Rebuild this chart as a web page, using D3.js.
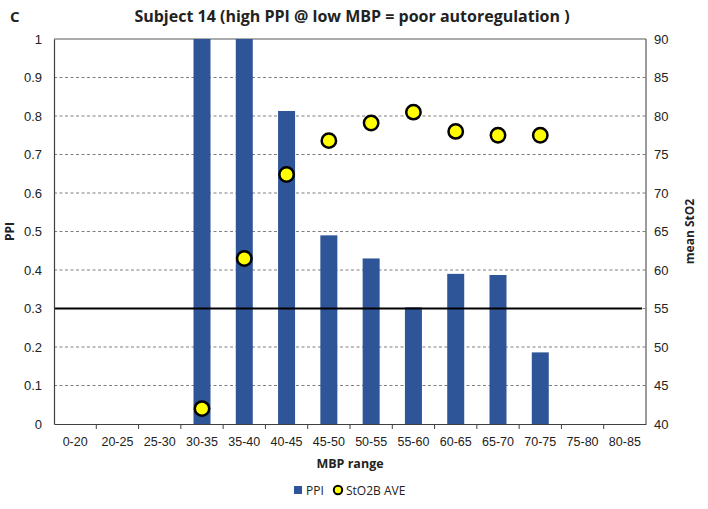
<!DOCTYPE html>
<html>
<head>
<meta charset="utf-8">
<script src="https://cdn.jsdelivr.net/npm/d3@7"></script>
<style>
  body { margin: 0; background: #fff; }
  svg { display: block; font-family: "Open Sans", "Noto Sans", sans-serif; }
</style>
</head>
<body>
<svg id="chart" width="708" height="509"></svg>
<script>
const categories = ["0-20","20-25","25-30","30-35","35-40","40-45","45-50","50-55","55-60","60-65","65-70","70-75","75-80","80-85"];
const ppiValues  = [null, null, null, 1.0, 1.0, 0.813, 0.49, 0.43, 0.303, 0.39, 0.387, 0.186, null, null];
const sto2Values = [null, null, null, 42.0, 61.5, 72.4, 76.8, 79.1, 80.5, 78.0, 77.5, 77.5, null, null];
const ppiTicks   = [0, 0.1, 0.2, 0.3, 0.4, 0.5, 0.6, 0.7, 0.8, 0.9, 1];
const sto2Ticks  = [40, 45, 50, 55, 60, 65, 70, 75, 80, 85, 90];
const thresholdPPI = 0.3;

const svg = d3.select("#chart");
const m = { left: 54, right: 646, top: 39, bottom: 424 };

const xb = d3.scaleBand().domain(categories).range([m.left, m.right]);
const yL = d3.scaleLinear().domain([0, 1]).range([m.bottom, m.top]);
const yR = d3.scaleLinear().domain([40, 90]).range([m.bottom, m.top]);

// gridlines
svg.append("g").selectAll("line").data(ppiTicks.filter(t => t > 0 && t < 1)).join("line")
  .attr("x1", m.left).attr("x2", m.right)
  .attr("y1", d => yL(d)).attr("y2", d => yL(d))
  .attr("stroke", "#7f7f7f").attr("stroke-width", 1).attr("stroke-dasharray", "3,2.5");

// frame top & right
svg.append("line").attr("x1", m.left).attr("x2", m.right).attr("y1", m.top).attr("y2", m.top).attr("stroke", "#595959").attr("stroke-width", 1.2);
svg.append("line").attr("x1", m.right).attr("x2", m.right).attr("y1", m.top).attr("y2", m.bottom).attr("stroke", "#595959").attr("stroke-width", 1.2);

// bars
const barData = categories.map((c, i) => ({ c, v: ppiValues[i] })).filter(d => d.v != null);
svg.append("g").selectAll("rect").data(barData).join("rect")
  .attr("x", d => xb(d.c) + xb.bandwidth() / 2 - 8.5)
  .attr("width", 17)
  .attr("y", d => yL(d.v))
  .attr("height", d => yL(0) - yL(d.v))
  .attr("fill", "#2E5597");

// threshold line
svg.append("line").attr("x1", m.left).attr("x2", m.right - 4)
  .attr("y1", yL(thresholdPPI)).attr("y2", yL(thresholdPPI))
  .attr("stroke", "#000").attr("stroke-width", 2);

// left axis
const gL = svg.append("g").attr("transform", `translate(${m.left},0)`)
  .call(d3.axisLeft(yL).tickValues(ppiTicks).tickSize(0).tickPadding(12).tickFormat(d => d3.format("")(d)));
gL.select(".domain").attr("stroke", "#404040").attr("stroke-width", 1.2);
gL.selectAll("text").attr("font-size", 13).attr("fill", "#222");

// right axis
const gR = svg.append("g").attr("transform", `translate(${m.right},0)`)
  .call(d3.axisRight(yR).tickValues(sto2Ticks).tickSize(0).tickPadding(8));
gR.select(".domain").remove();
gR.selectAll("text").attr("font-size", 13).attr("fill", "#222");

// bottom axis
const gB = svg.append("g").attr("transform", `translate(0,${m.bottom})`)
  .call(d3.axisBottom(xb).tickSize(0).tickPadding(13));
gB.select(".domain").attr("stroke", "#404040").attr("stroke-width", 1.2);
gB.selectAll("text").attr("font-size", 12.5).attr("fill", "#222");
svg.append("g").selectAll("line").data(categories.slice(1)).join("line")
  .attr("x1", d => xb(d)).attr("x2", d => xb(d))
  .attr("y1", m.bottom).attr("y2", m.bottom + 5)
  .attr("stroke", "#404040").attr("stroke-width", 1);

// points
const ptData = categories.map((c, i) => ({ c, v: sto2Values[i] })).filter(d => d.v != null);
svg.append("g").selectAll("circle").data(ptData).join("circle")
  .attr("cx", d => xb(d.c) + xb.bandwidth() / 2)
  .attr("cy", d => yR(d.v))
  .attr("r", 7.2)
  .attr("fill", "#FFFF00").attr("stroke", "#000").attr("stroke-width", 2.5);

// titles
svg.append("text").attr("x", 10).attr("y", 22).attr("font-size", 15).attr("font-weight", "bold").attr("fill", "#222").text("C");
svg.append("text").attr("x", 352).attr("y", 22).attr("text-anchor", "middle").attr("font-size", 16).attr("font-weight", "bold").attr("fill", "#222")
  .text("Subject 14 (high PPI @ low MBP = poor autoregulation )");
svg.append("text").attr("transform", `translate(14,${(m.top + m.bottom) / 2}) rotate(-90)`).attr("text-anchor", "middle")
  .attr("font-size", 12).attr("font-weight", "bold").attr("fill", "#222").text("PPI");
svg.append("text").attr("transform", `translate(694,${(m.top + m.bottom) / 2}) rotate(-90)`).attr("text-anchor", "middle")
  .attr("font-size", 12).attr("font-weight", "bold").attr("fill", "#222").text("mean StO2");
svg.append("text").attr("x", 350).attr("y", 468).attr("text-anchor", "middle")
  .attr("font-size", 12.5).attr("font-weight", "bold").attr("fill", "#222").text("MBP range");

// legend
const lg = svg.append("g");
lg.append("rect").attr("x", 294).attr("y", 486).attr("width", 8).attr("height", 8).attr("fill", "#2E5597");
lg.append("text").attr("x", 306).attr("y", 494.5).attr("font-size", 12).attr("fill", "#222").text("PPI");
lg.append("circle").attr("cx", 338).attr("cy", 490).attr("r", 4.2).attr("fill", "#FFFF00").attr("stroke", "#000").attr("stroke-width", 2);
lg.append("text").attr("x", 346).attr("y", 494.5).attr("font-size", 12).attr("fill", "#222").text("StO2B AVE");
</script>
</body>
</html>
